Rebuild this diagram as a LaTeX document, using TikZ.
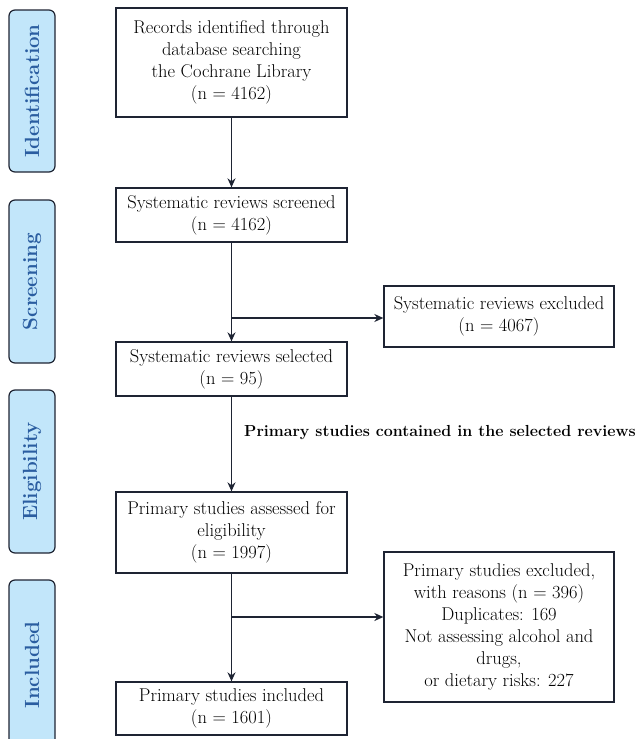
\documentclass[tikz,border=0pt]{standalone}
\usetikzlibrary{arrows.meta}
\definecolor{barfill}{HTML}{C2E6FA}
\definecolor{bartext}{HTML}{2A5DA0}
\definecolor{linec}{HTML}{1E2433}
\begin{document}
\begin{tikzpicture}[x=1pt,y=-1pt,
  box/.style={draw=linec, line width=1.3pt, align=center, inner sep=1pt, font=\fontsize{18.5}{22}\selectfont},
  stagebar/.style={draw=linec, line width=1.2pt, fill=barfill, rounded corners=6pt, minimum height=46pt, text=bartext, font=\fontsize{20.5}{22}\selectfont\bfseries, rotate=90, inner sep=0pt},
  arr/.style={draw=linec, line width=1.3pt, -{Stealth[length=9pt,width=8pt]}},
  ln/.style={draw=linec, line width=1.3pt}]
\useasboundingbox (0,0) rectangle (639,739);
\clip (0,0) rectangle (639,739);
% stage bars
\node[stagebar, minimum width=162pt] (s1) at (32,91) {Identification};
\node[stagebar, minimum width=163pt] (s2) at (32,281.5) {Screening};
\node[stagebar, minimum width=163pt] (s3) at (32,471.5) {Eligibility};
\node[stagebar, minimum width=170pt] (s4) at (32,665) {Included};
% main boxes
\node[box, minimum width=231pt, minimum height=109pt] (b1) at (231.5,62.5) {Records identified through\\database searching\\the Cochrane Library\\(n = 4162)};
\node[box, minimum width=231pt, minimum height=54pt] (b2) at (231.5,215) {Systematic reviews screened\\(n = 4162)};
\node[box, minimum width=230pt, minimum height=61pt] (e1) at (499,316.5) {Systematic reviews excluded\\(n = 4067)};
\node[box, minimum width=231pt, minimum height=54pt] (b3) at (231.5,369) {Systematic reviews selected\\(n = 95)};
\node[box, minimum width=231pt, minimum height=81pt] (b4) at (231.5,532.5) {Primary studies assessed for\\eligibility\\(n = 1997)};
\node[box, minimum width=230pt, minimum height=150pt] (e2) at (499,627) {Primary studies excluded,\\with reasons (n = 396)\\Duplicates: 169\\Not assessing alcohol and\\drugs,\\or dietary risks: 227};
\node[box, minimum width=231pt, minimum height=53pt] (b5) at (231.5,708.5) {Primary studies included\\(n = 1601)};
\node[anchor=west, inner sep=0pt, font=\fontsize{16}{20}\selectfont\bfseries] (lab) at (244,433) {Primary studies contained in the selected reviews};
% connectors
\draw[arr] (b1) -- (b2);
\draw[arr] (b2) -- (b3);
\coordinate (j1) at (231.5,318);
\draw[arr] (j1) -- (e1.west |- j1);
\draw[arr] (b3) -- (b4);
\draw[arr] (b4) -- (b5);
\coordinate (j2) at (231.5,617);
\draw[arr] (j2) -- (e2.west |- j2);
\end{tikzpicture}
\end{document}
